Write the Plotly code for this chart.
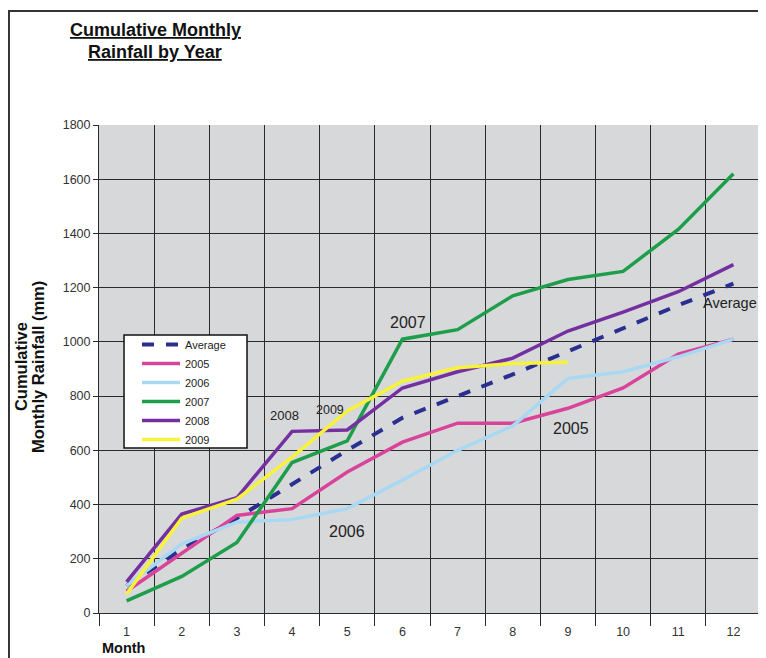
import plotly.graph_objects as go

months = ["1", "2", "3", "4", "5", "6", "7", "8", "9", "10", "11", "12"]
avg = [100, 235, 350, 475, 600, 720, 800, 880, 965, 1050, 1135, 1215]
y2005 = [80, 220, 360, 385, 520, 630, 700, 700, 755, 830, 955, 1010]
y2006 = [100, 255, 335, 345, 385, 490, 600, 690, 865, 890, 945, 1010]
y2007 = [45, 135, 260, 555, 635, 1010, 1045, 1170, 1230, 1260, 1415, 1620]
y2008 = [115, 365, 425, 670, 675, 830, 890, 940, 1040, 1110, 1185, 1285]
y2009 = [70, 350, 420, 575, 745, 855, 905, 920, 925]

series = [
    ("2005", y2005, "#d9449b"),
    ("2006", y2006, "#a9d9f2"),
    ("2007", y2007, "#1e9e4a"),
    ("2008", y2008, "#7430a0"),
    ("2009", y2009, "#f7f23a"),
]

FONT = "Liberation Sans, Arial, sans-serif"

fig = go.Figure()
fig.add_trace(go.Scatter(x=months, y=avg, name="Average", mode="lines",
                         line=dict(color="#2b2f8f", width=4, dash="dash")))
for name, vals, col in series:
    fig.add_trace(go.Scatter(x=months[:len(vals)], y=vals, name=name, mode="lines",
                             line=dict(color=col, width=3.5)))

labels = [
    ("2007", 5.1, 1073, 16, "center"),
    ("2008", 2.87, 730, 13, "center"),
    ("2009", 3.69, 749, 12.5, "center"),
    ("2006", 4.0, 302, 16, "center"),
    ("2005", 8.05, 679, 16, "center"),
    ("Average", 11.46, 1143, 14.5, "right"),
]
for txt, xi, yv, sz, anc in labels:
    fig.add_annotation(x=xi, y=yv, xref="x", yref="y", text=txt, showarrow=False,
                       xanchor=anc, yanchor="middle",
                       font=dict(family=FONT, size=sz, color="#222222"))

# title
fig.add_annotation(x=0.0846, y=1.1947, xref="paper", yref="paper",
                   text="<b><u>Cumulative Monthly</u></b>", showarrow=False,
                   xanchor="center", yanchor="middle",
                   font=dict(family=FONT, size=18, color="#111111"))
fig.add_annotation(x=0.0846, y=1.1496, xref="paper", yref="paper",
                   text="<b><u>Rainfall by Year</u></b>", showarrow=False,
                   xanchor="center", yanchor="middle",
                   font=dict(family=FONT, size=18, color="#111111"))
# y-axis title (two lines)
fig.add_annotation(x=-0.1178, y=0.504, xref="paper", yref="paper",
                   text="<b>Cumulative</b>", showarrow=False, textangle=-90,
                   xanchor="center", yanchor="middle",
                   font=dict(family=FONT, size=16.5, color="#111111"))
fig.add_annotation(x=-0.0921, y=0.504, xref="paper", yref="paper",
                   text="<b>Monthly Rainfall (mm)</b>", showarrow=False, textangle=-90,
                   xanchor="center", yanchor="middle",
                   font=dict(family=FONT, size=16.5, color="#111111"))
# x-axis title
fig.add_annotation(x=0.0015, y=-0.0717, xref="paper", yref="paper",
                   text="<b>Month</b>", showarrow=False,
                   xanchor="left", yanchor="middle",
                   font=dict(family=FONT, size=14.5, color="#111111"))

# outer border
fig.add_shape(type="rect", xref="paper", yref="paper",
              x0=-0.1360, y0=-0.2, x1=1.05, y1=1.2336,
              line=dict(color="#333333", width=2), fillcolor="rgba(0,0,0,0)", layer="below")
# legend box
fig.add_shape(type="rect", xref="paper", yref="paper",
              x0=0.0378, y0=0.338, x1=0.2236, y1=0.5697,
              line=dict(color="#111111", width=1.5), fillcolor="white", layer="above")

fig.update_layout(
    width=758, height=650,
    margin=dict(l=91, r=5, t=117, b=45),
    paper_bgcolor="white",
    plot_bgcolor="#d7d8da",
    font=dict(family=FONT, size=12, color="#333333"),
    showlegend=True,
    legend=dict(x=0.0574, y=0.580, xanchor="left", yanchor="top",
                bgcolor="rgba(0,0,0,0)", borderwidth=0,
                font=dict(family=FONT, size=11, color="#222222"),
                tracegroupgap=0, itemwidth=38),
    xaxis=dict(type="category", range=[-0.5, 11.5], tickson="boundaries",
               showgrid=True, gridcolor="#2a2a2a", gridwidth=1,
               showline=True, linecolor="#2a2a2a", linewidth=1,
               ticks="outside", ticklen=12, tickcolor="#2a2a2a",
               ticklabelstandoff=7,
               tickfont=dict(size=12.5, color="#333333")),
    yaxis=dict(range=[0, 1800], dtick=200, tick0=0,
               showgrid=True, gridcolor="#2a2a2a", gridwidth=1,
               showline=True, linecolor="#2a2a2a", linewidth=1,
               ticks="outside", ticklen=5, tickcolor="#2a2a2a",
               zeroline=False,
               tickfont=dict(size=12.5, color="#333333")),
)

fig.write_html("out.html")
